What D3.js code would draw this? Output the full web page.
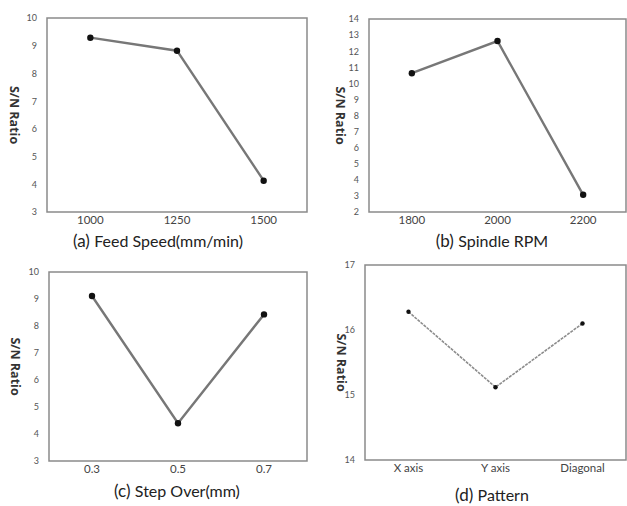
<!DOCTYPE html>
<html>
<head>
<meta charset="utf-8">
<script src="https://cdn.jsdelivr.net/npm/d3@7"></script>
<style>
  body { margin: 0; background: #fff; }
  svg { display: block; }
</style>
</head>
<body>
<div id="chart"></div>
<script>
// Values
var feedSpeeds = ["1000", "1250", "1500"];
var feedSN = [9.29, 8.82, 4.13];

var spindleRPM = ["1800", "2000", "2200"];
var spindleSN = [10.63, 12.63, 3.07];

var stepOver = ["0.3", "0.5", "0.7"];
var stepSN = [9.11, 4.4, 8.43];

var patterns = ["X axis", "Y axis", "Diagonal"];
var patternSN = [16.28, 15.12, 16.1];

var feedTicks = [3, 4, 5, 6, 7, 8, 9, 10];
var spindleTicks = [2, 3, 4, 5, 6, 7, 8, 9, 10, 11, 12, 13, 14];
var stepTicks = [3, 4, 5, 6, 7, 8, 9, 10];
var patternTicks = [14, 15, 16, 17];

// Panel layout (frame boxes in page pixels)
var panels = [
    { cats: feedSpeeds, vals: feedSN, ticks: feedTicks, box: [47, 18, 307, 212], labX: 14,
      tag: "(a)", caption: "Feed Speed(mm/min)", capX: 158, capY: 247, dotted: false },
    { cats: spindleRPM, vals: spindleSN, ticks: spindleTicks, box: [369, 19, 626, 212], labX: 340,
      tag: "(b)", caption: "Spindle RPM", capX: 492, capY: 247, dotted: false },
    { cats: stepOver, vals: stepSN, ticks: stepTicks, box: [49, 272, 307, 461], labX: 15,
      tag: "(c)", caption: "Step Over(mm)", capX: 177, capY: 497, dotted: false },
    { cats: patterns, vals: patternSN, ticks: patternTicks, box: [365, 265, 626, 460], labX: 341,
      tag: "(d)", caption: "Pattern", capX: 492, capY: 501, dotted: true }
];

var svg = d3.select("#chart").append("svg")
    .attr("width", 627)
    .attr("height", 506);

var tickFont = "Lato, sans-serif";

panels.forEach(function (p) {
    var x0 = p.box[0], y0 = p.box[1], x1 = p.box[2], y1 = p.box[3];

    var x = d3.scaleBand()
        .domain(p.cats)
        .range([x0, x1]);

    var y = d3.scaleLinear()
        .domain(d3.extent(p.ticks))
        .range([y1, y0]);

    var g = svg.append("g");

    // Y axis labels
    g.append("g")
        .attr("transform", `translate(${x0 - 2}, 0)`)
        .call(d3.axisLeft(y).tickValues(p.ticks).tickFormat(d3.format("d")).tickSize(0).tickPadding(8))
        .call(a => a.select(".domain").remove())
        .selectAll("text")
        .style("font-family", tickFont)
        .style("font-size", "9px")
        .style("fill", "#555");

    // X axis labels
    g.append("g")
        .attr("transform", `translate(0, ${y1})`)
        .call(d3.axisBottom(x).tickSize(0).tickPadding(4))
        .call(a => a.select(".domain").remove())
        .selectAll("text")
        .style("font-family", tickFont)
        .style("font-size", "11.5px")
        .style("fill", "#444");

    // Frame
    g.append("rect")
        .attr("x", x0)
        .attr("y", y0)
        .attr("width", x1 - x0)
        .attr("height", y1 - y0)
        .attr("fill", "none")
        .attr("stroke", "#8a8a8a")
        .attr("stroke-width", 1.5);

    var pts = p.cats.map((c, i) => [x(c) + x.bandwidth() / 2, y(p.vals[i])]);

    // Line
    g.append("path")
        .datum(pts)
        .attr("d", d3.line())
        .attr("fill", "none")
        .attr("stroke", p.dotted ? "#8c8c8c" : "#777")
        .attr("stroke-width", p.dotted ? 1.6 : 2.4)
        .attr("stroke-dasharray", p.dotted ? "3,1" : null);

    // Markers
    g.selectAll(".dot")
        .data(pts)
        .enter().append("circle")
        .attr("class", "dot")
        .attr("cx", d => d[0])
        .attr("cy", d => d[1])
        .attr("r", p.dotted ? 2.2 : 3.2)
        .attr("fill", "#111");

    // Y axis title
    g.append("text")
        .attr("transform", `translate(${p.labX}, ${(y0 + y1) / 2}) rotate(90)`)
        .attr("text-anchor", "middle")
        .attr("dy", "0.35em")
        .style("font-family", "'Open Sans', sans-serif")
        .style("font-size", "12.5px")
        .style("font-weight", "700")
        .style("fill", "#333")
        .text("S/N Ratio");

    // Caption
    var cap = g.append("text")
        .attr("x", p.capX)
        .attr("y", p.capY)
        .attr("text-anchor", "middle")
        .style("font-family", "Lato, sans-serif")
        .style("font-size", "16px")
        .style("fill", "#222");
    cap.append("tspan")
        .style("font-size", "17px")
        .text(p.tag + "\u00a0");
    cap.append("tspan").text(p.caption);
});
</script>
</body>
</html>
